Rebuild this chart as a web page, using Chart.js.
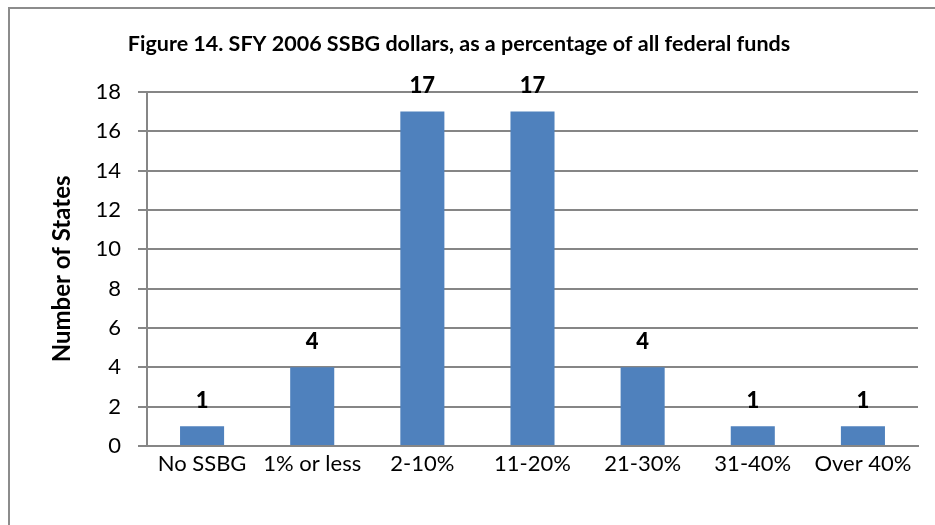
<!DOCTYPE html>
<html>
<head>
<meta charset="utf-8">
<script src="https://cdn.jsdelivr.net/npm/chart.js@4/dist/chart.umd.min.js"></script>
<style>
  html, body { margin: 0; padding: 0; background: #fff; overflow: hidden; }
  #frame { position: absolute; left: 8px; top: 7px; width: 1000px; height: 1000px; border: 2px solid #8c8c8c; }
  #wrap { position: absolute; left: 0; top: 0; width: 935px; height: 525px; }
</style>
</head>
<body>
<div id="frame"></div>
<div id="wrap"><canvas id="barChart" width="935" height="525"></canvas></div>
<script>
// values
const categories = ['No SSBG', '1% or less', '2-10%', '11-20%', '21-30%', '31-40%', 'Over 40%'];
const stateCounts = [1, 4, 17, 17, 4, 1, 1];
const yTicks = [0, 2, 4, 6, 8, 10, 12, 14, 16, 18];

const FONT = 'Lato, "Open Sans", sans-serif';

// bold value labels above each bar
const barLabels = {
  id: 'barLabels',
  afterDatasetsDraw(chart) {
    const ctx = chart.ctx;
    const meta = chart.getDatasetMeta(0);
    ctx.save();
    ctx.font = '900 22px ' + FONT;
    ctx.fillStyle = '#000';
    ctx.textAlign = 'center';
    ctx.textBaseline = 'alphabetic';
    meta.data.forEach((bar, i) => {
      ctx.fillText(String(stateCounts[i]), bar.x, bar.y - 18);
    });
    ctx.restore();
  }
};

const ctx = document.querySelector('#barChart').getContext('2d');
const chart = new Chart(ctx, {
  type: 'bar',
  data: {
    labels: categories,
    datasets: [{
      label: 'Number of States',
      data: stateCounts,
      backgroundColor: '#4F81BD',
      borderWidth: 0,
      barPercentage: 0.4,
      categoryPercentage: 1.0
    }]
  },
  options: {
    responsive: false,
    maintainAspectRatio: false,
    animation: false,
    layout: { padding: { left: 0, right: 17, top: 0, bottom: 0 } },
    scales: {
      x: {
        grid: { display: false, drawTicks: false },
        border: { color: '#868686', width: 2 },
        ticks: { color: '#000', font: { family: FONT, size: 22 }, padding: 5, maxRotation: 0 },
        afterFit: (scale) => { scale.height = 525 - 446; }
      },
      y: {
        min: 0,
        max: 18,
        afterBuildTicks: (scale) => { scale.ticks = yTicks.map(v => ({ value: v })); },
        grid: { color: '#868686', lineWidth: 2, tickLength: 9 },
        border: { color: '#868686', width: 2 },
        ticks: { color: '#000', font: { family: FONT, size: 22 }, padding: 17 },
        title: {
          display: true,
          text: 'Number of States',
          color: '#000',
          font: { family: FONT, size: 24, weight: 'bold' },
          padding: { top: 48, bottom: 0 }
        },
        afterFit: (scale) => { scale.width = 147; }
      }
    },
    plugins: {
      legend: { display: false },
      tooltip: { enabled: false },
      title: {
        display: true,
        text: 'Figure 14. SFY 2006 SSBG dollars, as a percentage of all federal funds',
        color: '#000',
        font: { family: FONT, size: 21.5, weight: 'bold' },
        padding: { top: 31, bottom: 35 }
      }
    }
  },
  plugins: [barLabels]
});
</script>
</body>
</html>
